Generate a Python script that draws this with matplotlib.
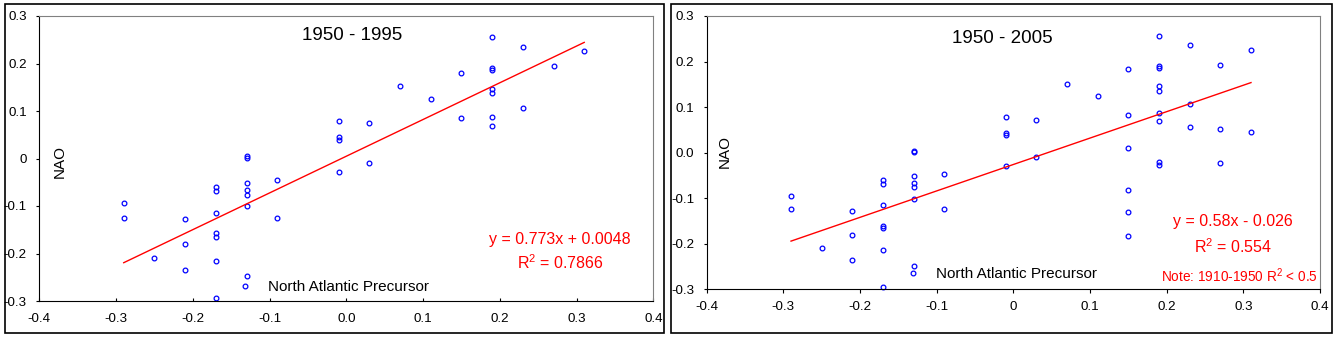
import matplotlib
matplotlib.use('Agg')
import matplotlib.pyplot as plt
from matplotlib.patches import Rectangle
from matplotlib.lines import Line2D
import numpy as np

plt.rcParams['font.family'] = ['Liberation Sans', 'DejaVu Sans']
plt.rcParams['mathtext.fontset'] = 'custom'
plt.rcParams['mathtext.rm'] = 'Liberation Sans'

# 1950 - 1995
x_a = [-0.29, -0.29, -0.25, -0.21, -0.21, -0.21,
       -0.17, -0.17, -0.17, -0.17, -0.17, -0.17, -0.17,
       -0.13, -0.13, -0.13, -0.13, -0.13, -0.13, -0.13,
       -0.09, -0.09, -0.01, -0.01, -0.01, -0.01, 0.03, 0.03,
       0.07, 0.11, 0.15, 0.15,
       0.19, 0.19, 0.19, 0.19, 0.19, 0.19, 0.19,
       0.23, 0.23, 0.27, 0.31]
y_a = [-0.094, -0.126, -0.210, -0.128, -0.181, -0.235,
       -0.061, -0.068, -0.115, -0.157, -0.166, -0.216, -0.294,
       0.005, 0.001, -0.052, -0.066, -0.076, -0.101, -0.248,
       -0.045, -0.126, 0.078, 0.046, 0.039, -0.029, 0.074, -0.010,
       0.152, 0.125, 0.181, 0.085,
       0.255, 0.190, 0.186, 0.146, 0.137, 0.087, 0.069,
       0.235, 0.106, 0.194, 0.226]
fit_a = [0.773, 0.0048]

# 1950 - 2005
x_b = [-0.29, -0.29, -0.25, -0.21, -0.21, -0.21,
       -0.17, -0.17, -0.17, -0.17, -0.17, -0.17, -0.17,
       -0.13, -0.13, -0.13, -0.13, -0.13, -0.13, -0.13,
       -0.09, -0.09, -0.01, -0.01, -0.01, -0.01, 0.03, 0.03,
       0.07, 0.11,
       0.15, 0.15, 0.15, 0.15, 0.15, 0.15,
       0.19, 0.19, 0.19, 0.19, 0.19, 0.19, 0.19, 0.19, 0.19,
       0.23, 0.23, 0.23, 0.27, 0.27, 0.27, 0.31, 0.31]
y_b = [-0.096, -0.124, -0.209, -0.128, -0.181, -0.235,
       -0.060, -0.069, -0.115, -0.160, -0.165, -0.214, -0.296,
       0.004, 0.001, -0.052, -0.067, -0.075, -0.102, -0.248,
       -0.046, -0.124, 0.078, 0.044, 0.039, -0.029, 0.072, -0.010,
       0.150, 0.124,
       0.183, 0.082, 0.010, -0.083, -0.131, -0.184,
       0.256, 0.190, 0.185, 0.146, 0.136, 0.086, 0.069, -0.021, -0.027,
       0.236, 0.106, 0.056, 0.193, 0.053, -0.023, 0.225, 0.046]
fit_b = [0.58, -0.026]

xticks = [-0.4, -0.3, -0.2, -0.1, 0.0, 0.1, 0.2, 0.3, 0.4]
yticks = [0.3, 0.2, 0.1, 0.0, -0.1, -0.2, -0.3]
xlabels_a = ['-0.4', '-0.3', '-0.2', '-0.1', '0.0', '0.1', '0.2', '0.3', '0.4']
ylabels_a = ['0.3', '0.2', '0.1', '0', '-0.1', '-0.2', '-0.3']
xlabels_b = ['-0.4', '-0.3', '-0.2', '-0.1', '0', '0.1', '0.2', '0.3', '0.4']
ylabels_b = ['0.3', '0.2', '0.1', '0.0', '-0.1', '-0.2', '-0.3']

fig = plt.figure(figsize=(13.35, 3.38), dpi=100)
W, H = 1335.0, 338.0

# panel frames
for x0, x1 in [(5, 664), (671, 1331.5)]:
    fig.add_artist(Rectangle((x0 / W, 1 - 333 / H), (x1 - x0) / W, 329 / H,
                             transform=fig.transFigure, fill=False,
                             edgecolor='black', lw=1.2))


def panel(rect, xs, ys, fit, title, xl, yl, eq, r2, tick_dir, bottom_ls, pos):
    ax = fig.add_axes(rect)
    ax.plot(xs, ys, 'o', mfc='none', mec='blue', ms=3.4, mew=0.9, clip_on=False)
    lx = np.array([min(xs), max(xs)])
    ax.plot(lx, np.polyval(fit, lx), color='red', lw=1)
    ax.set_xlim(-0.4, 0.4)
    ax.set_ylim(-0.3, 0.3)
    ax.set_xticks(xticks, xl)
    ax.set_yticks(yticks, yl)
    for s in ['top', 'right']:
        ax.spines[s].set_color('#808080')
    ax.spines['left'].set_color('black')
    ax.spines['bottom'].set_color('black')
    ax.spines['bottom'].set_linestyle(bottom_ls)
    ax.tick_params(axis='y', direction='out', length=2.5, pad=6.5, labelsize=9.6)
    if tick_dir == 'in':
        ax.tick_params(axis='x', direction='in', length=2.5, pad=9, labelsize=9.6)
    else:
        ax.tick_params(axis='x', direction='out', length=3, pad=5.4, labelsize=9.6)
    ax.text(pos['title'][0], pos['title'][1], title, transform=ax.transAxes,
            ha='center', va='center', fontsize=13.5)
    ax.text(pos['nao'][0], pos['nao'][1], 'NAO', transform=ax.transAxes,
            ha='center', va='center', rotation=90, fontsize=11)
    ax.text(pos['eq'][0], pos['eq'][1], eq, transform=ax.transAxes,
            ha='center', va='center', fontsize=11.5, color='red')
    ax.text(pos['r2'][0], pos['r2'][1], r2, transform=ax.transAxes,
            ha='center', va='center', fontsize=11.5, color='red')
    h = Line2D([], [], ls='none', marker='o', mfc='none', mec='blue', ms=3.4, mew=0.9)
    ax.legend([h], ['North Atlantic Precursor'], loc='center left',
              bbox_to_anchor=pos['leg'], frameon=False, fontsize=11,
              handlelength=1.0, handletextpad=1.0, borderpad=0,
              borderaxespad=0, numpoints=1)
    return ax


ax1 = panel([39.3 / W, 37 / H, 614 / W, 285 / H], x_a, y_a, fit_a, '1950 - 1995',
            xlabels_a, ylabels_a, 'y = 0.773x + 0.0048', r'$\mathregular{R^2}$ = 0.7866',
            'in', (0, (1, 1)),
            {'title': (0.509, 0.933), 'nao': (0.033, 0.491), 'eq': (0.848, 0.217),
             'r2': (0.849, 0.135), 'leg': (0.3226, 0.049)})

ax2 = panel([706.7 / W, 48.7 / H, 613.3 / W, 273.3 / H], x_b, y_b, fit_b, '1950 - 2005',
            xlabels_b, ylabels_b, 'y = 0.58x - 0.026', r'$\mathregular{R^2}$ = 0.554',
            'out', '-',
            {'title': (0.4815, 0.918), 'nao': (0.030, 0.5035), 'eq': (0.8586, 0.247),
             'r2': (0.859, 0.155), 'leg': (0.3235, 0.056)})
ax2.text(0.869, 0.049, r'Note: 1910-1950 $\mathregular{R^2}$ < 0.5', transform=ax2.transAxes,
         ha='center', va='center', fontsize=9.8, color='red')

fig.savefig('out.png', dpi=100)
